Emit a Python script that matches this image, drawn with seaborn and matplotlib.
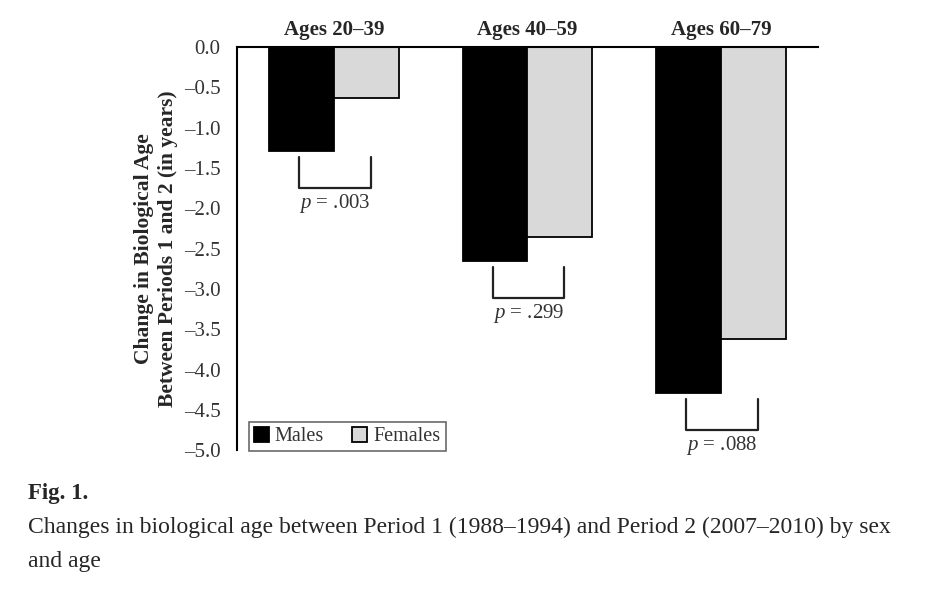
import matplotlib
matplotlib.use("Agg")
import matplotlib.pyplot as plt
import seaborn as sns
import pandas as pd

# data
ageGroups = ["Ages 20\u201339", "Ages 40\u201359", "Ages 60\u201379"]
males = [-1.29, -2.65, -4.29]
females = [-0.63, -2.36, -3.62]
pValues = ["= .003", "= .299", "= .088"]
yTicks = [0.0, -0.5, -1.0, -1.5, -2.0, -2.5, -3.0, -3.5, -4.0, -4.5, -5.0]

df = pd.DataFrame({
    "group": ageGroups * 2,
    "sex": ["Males"] * 3 + ["Females"] * 3,
    "change": males + females,
})

sns.set_theme(style="white")
plt.rcParams["font.family"] = ["Liberation Serif", "DejaVu Serif"]
plt.rcParams["mathtext.fontset"] = "custom"
plt.rcParams["mathtext.it"] = "Liberation Serif:italic"
plt.rcParams["mathtext.rm"] = "Liberation Serif"

fig = plt.figure(figsize=(9.26, 5.94), dpi=100)
ax = fig.add_axes([0.256, 0.242, 0.627, 0.679])

sns.barplot(data=df, x="group", y="change", hue="sex", ax=ax,
            palette={"Males": "black", "Females": "#d9d9d9"},
            width=0.67, edgecolor="black", linewidth=1.3, saturation=1)

ax.set_xlim(-0.5, 2.5)
ax.set_ylim(-5.0, 0.0)
ax.set_yticks(yTicks)
ax.set_yticklabels(["0.0"] + ["\u2013" + "%.1f" % abs(v) for v in yTicks[1:]])
ax.tick_params(axis="y", length=0, pad=12, labelsize=15, labelcolor="#333333")

ax.xaxis.tick_top()
ax.tick_params(axis="x", length=0, pad=5, labelsize=15)
for lbl in ax.get_xticklabels():
    lbl.set_fontweight("bold")
ax.set_xlabel("")
ax.set_ylabel("Change in Biological Age\nBetween Periods 1 and 2 (in years)",
              fontsize=15.5, fontweight="bold", labelpad=4, linespacing=1.3)

for side in ["right", "bottom"]:
    ax.spines[side].set_visible(False)
ax.spines["left"].set_linewidth(1.5)
ax.spines["top"].set_linewidth(1.5)
ax.spines["left"].set_color("black")
ax.spines["top"].set_color("black")

# p-value brackets below each pair of bars
for i, (m, f, p) in enumerate(zip(males, females, pValues)):
    top = min(m, f) - 0.08
    bottom = top - 0.38
    x0, x1 = i - 0.18, i + 0.19
    ax.plot([x0, x0, x1, x1], [top, bottom, bottom, top], color="#222222",
            lw=1.6, clip_on=False)
    ax.text(i + 0.005, bottom - 0.19, "$p$ " + p, ha="center", va="center",
            fontsize=15, color="#333333")

leg = ax.legend(loc="lower left", ncol=2, frameon=True, fancybox=False,
                fontsize=14.5, handlelength=0.75, handleheight=0.75,
                handletextpad=0.3, columnspacing=1.4, borderpad=0.25,
                borderaxespad=0.0, bbox_to_anchor=(0.02, -0.003))
leg.get_frame().set_edgecolor("#444444")
leg.get_frame().set_linewidth(1.2)
for t in leg.get_texts():
    t.set_color("#333333")

fig.text(28 / 926, 1 - 493 / 594, "Fig. 1.", fontsize=16.5, fontweight="bold",
         va="center", ha="left")
fig.text(28 / 926, 1 - 544.5 / 594,
         "Changes in biological age between Period 1 (1988\u20131994) and Period 2 (2007\u20132010) by sex\nand age",
         fontsize=17, va="center", ha="left", linespacing=1.78)

fig.savefig("out.png", dpi=100)
